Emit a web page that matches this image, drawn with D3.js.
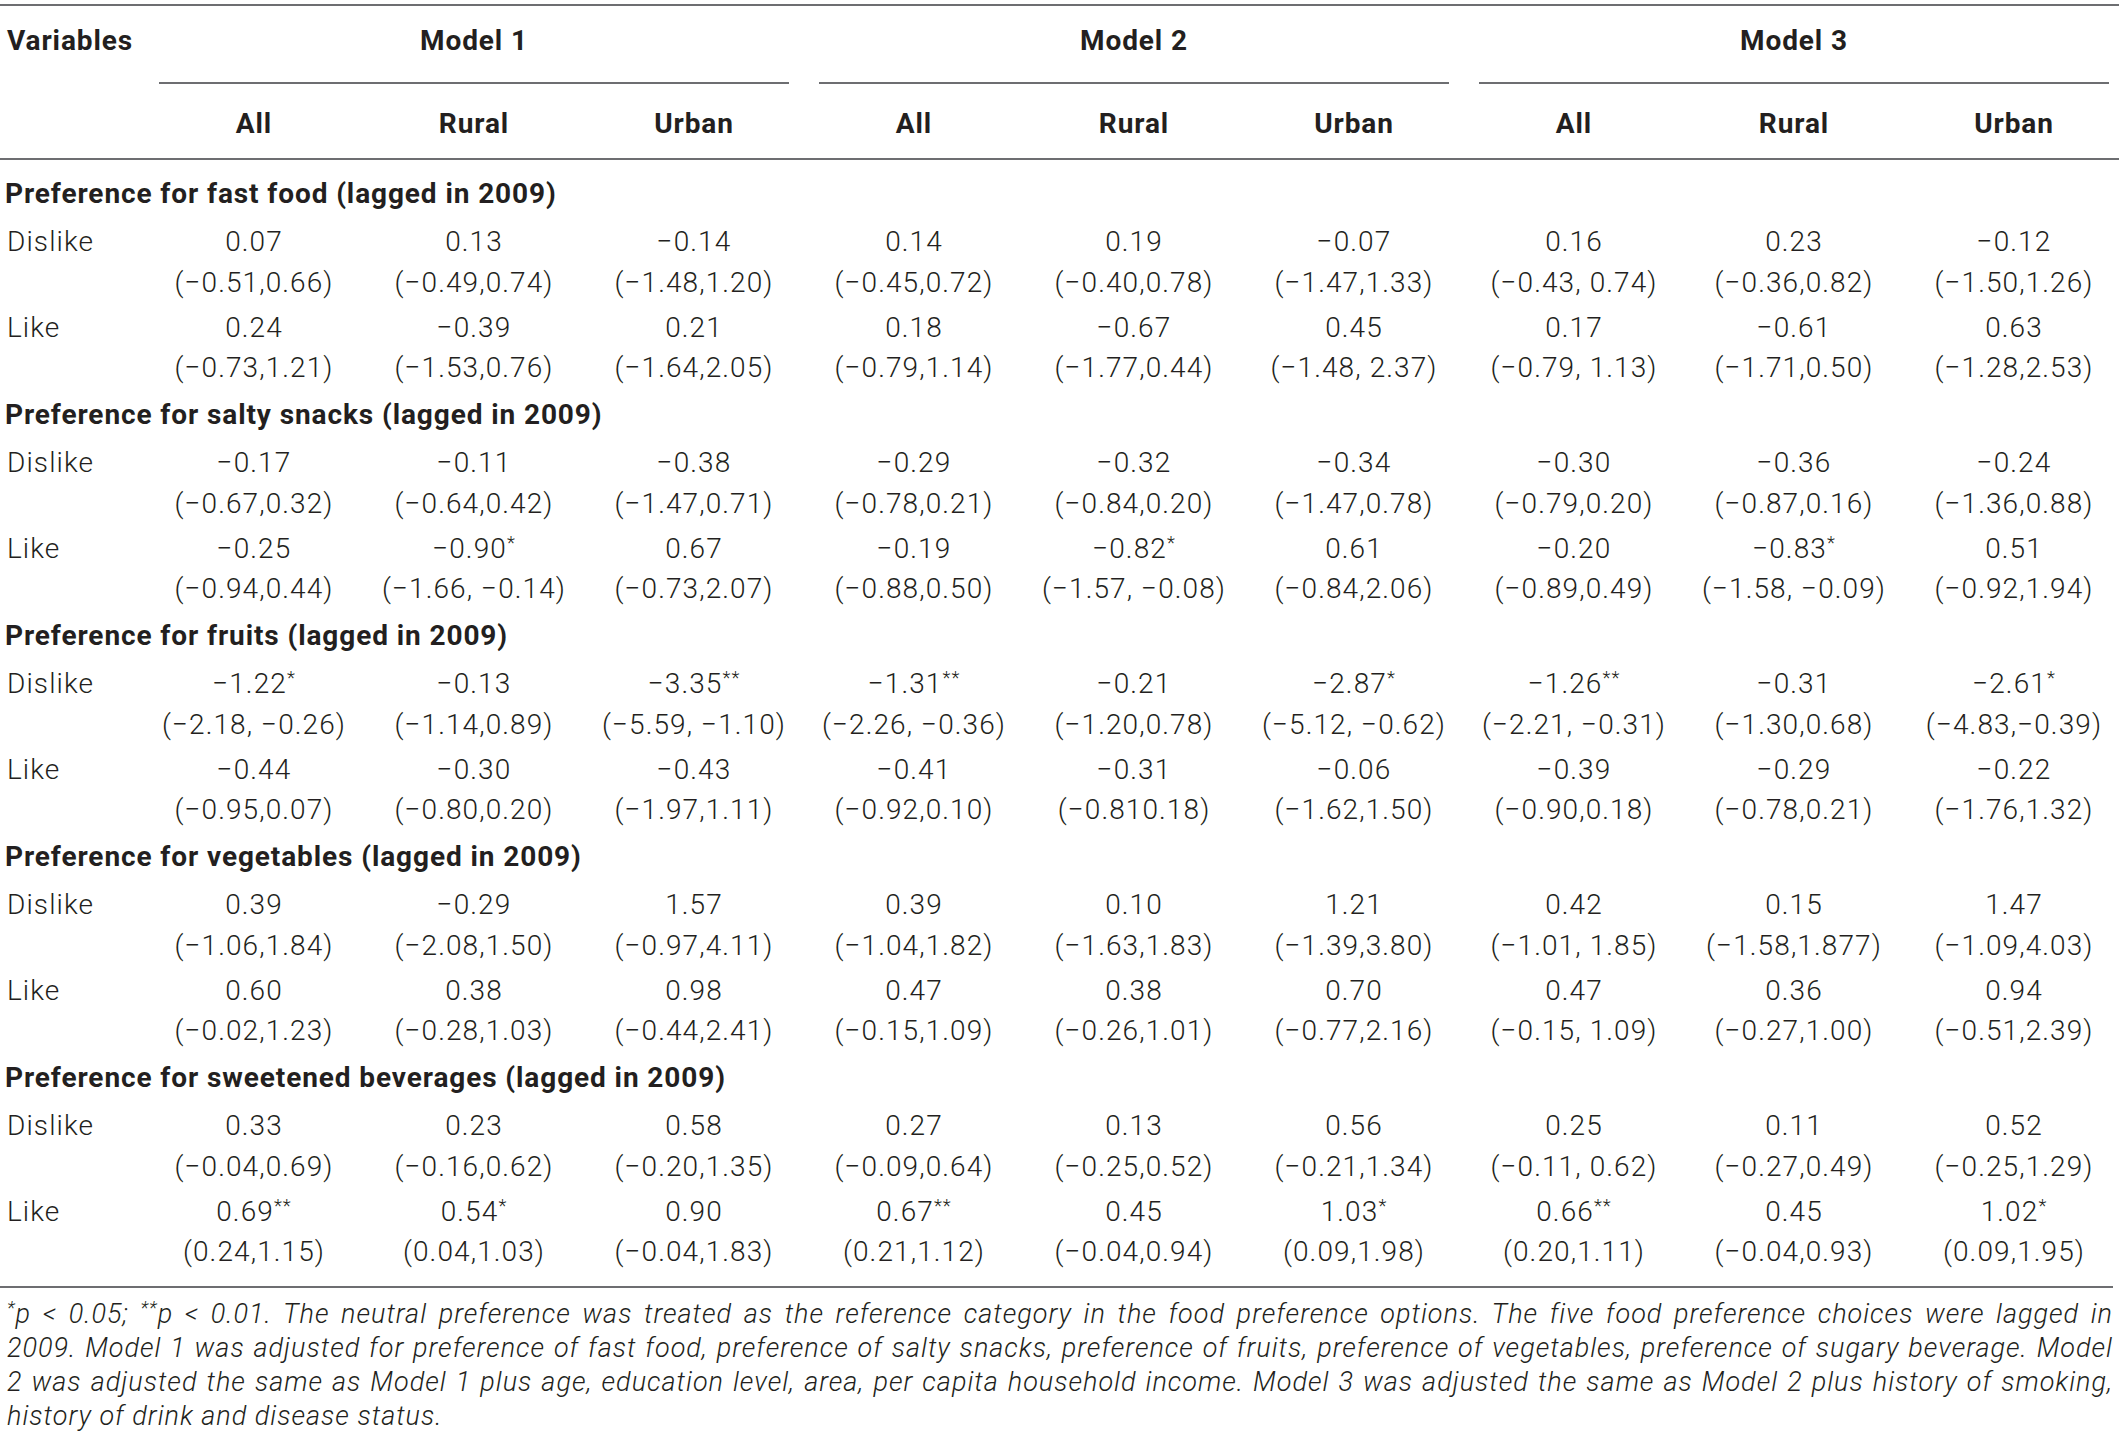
<!DOCTYPE html>
<html>
<head>
<meta charset="utf-8">
<script src="https://cdn.jsdelivr.net/npm/d3@7/dist/d3.min.js"></script>
<style>
  body { margin: 0; background: #fff; }
  svg { display: block; }
  text { fill: #231f20; font-family: Roboto, "Liberation Sans", sans-serif; }
  .light { font-weight: 300; letter-spacing: 1.1px; }
  .bold { font-weight: 700; letter-spacing: 0.9px; }
  .note { font-style: italic; font-weight: 300; letter-spacing: 1px; }
</style>
</head>
<body>
<div id="vis"></div>
<script>
// ---- data ----
var models = ["Model 1", "Model 2", "Model 3"];
var groups = ["All", "Rural", "Urban"];
var levels = ["Dislike", "Like"];
var sections = [
  "Preference for fast food (lagged in 2009)",
  "Preference for salty snacks (lagged in 2009)",
  "Preference for fruits (lagged in 2009)",
  "Preference for vegetables (lagged in 2009)",
  "Preference for sweetened beverages (lagged in 2009)"
];

// estimates: [dislike row, like row], 9 columns (Model 1..3 x All/Rural/Urban)
var fastFoodEst = [
  ["0.07", "0.13", "−0.14", "0.14", "0.19", "−0.07", "0.16", "0.23", "−0.12"],
  ["0.24", "−0.39", "0.21", "0.18", "−0.67", "0.45", "0.17", "−0.61", "0.63"]
];
var fastFoodCI = [
  ["(−0.51,0.66)", "(−0.49,0.74)", "(−1.48,1.20)", "(−0.45,0.72)", "(−0.40,0.78)", "(−1.47,1.33)", "(−0.43, 0.74)", "(−0.36,0.82)", "(−1.50,1.26)"],
  ["(−0.73,1.21)", "(−1.53,0.76)", "(−1.64,2.05)", "(−0.79,1.14)", "(−1.77,0.44)", "(−1.48, 2.37)", "(−0.79, 1.13)", "(−1.71,0.50)", "(−1.28,2.53)"]
];
var saltyEst = [
  ["−0.17", "−0.11", "−0.38", "−0.29", "−0.32", "−0.34", "−0.30", "−0.36", "−0.24"],
  ["−0.25", "−0.90*", "0.67", "−0.19", "−0.82*", "0.61", "−0.20", "−0.83*", "0.51"]
];
var saltyCI = [
  ["(−0.67,0.32)", "(−0.64,0.42)", "(−1.47,0.71)", "(−0.78,0.21)", "(−0.84,0.20)", "(−1.47,0.78)", "(−0.79,0.20)", "(−0.87,0.16)", "(−1.36,0.88)"],
  ["(−0.94,0.44)", "(−1.66, −0.14)", "(−0.73,2.07)", "(−0.88,0.50)", "(−1.57, −0.08)", "(−0.84,2.06)", "(−0.89,0.49)", "(−1.58, −0.09)", "(−0.92,1.94)"]
];
var fruitsEst = [
  ["−1.22*", "−0.13", "−3.35**", "−1.31**", "−0.21", "−2.87*", "−1.26**", "−0.31", "−2.61*"],
  ["−0.44", "−0.30", "−0.43", "−0.41", "−0.31", "−0.06", "−0.39", "−0.29", "−0.22"]
];
var fruitsCI = [
  ["(−2.18, −0.26)", "(−1.14,0.89)", "(−5.59, −1.10)", "(−2.26, −0.36)", "(−1.20,0.78)", "(−5.12, −0.62)", "(−2.21, −0.31)", "(−1.30,0.68)", "(−4.83,−0.39)"],
  ["(−0.95,0.07)", "(−0.80,0.20)", "(−1.97,1.11)", "(−0.92,0.10)", "(−0.810.18)", "(−1.62,1.50)", "(−0.90,0.18)", "(−0.78,0.21)", "(−1.76,1.32)"]
];
var vegEst = [
  ["0.39", "−0.29", "1.57", "0.39", "0.10", "1.21", "0.42", "0.15", "1.47"],
  ["0.60", "0.38", "0.98", "0.47", "0.38", "0.70", "0.47", "0.36", "0.94"]
];
var vegCI = [
  ["(−1.06,1.84)", "(−2.08,1.50)", "(−0.97,4.11)", "(−1.04,1.82)", "(−1.63,1.83)", "(−1.39,3.80)", "(−1.01, 1.85)", "(−1.58,1.877)", "(−1.09,4.03)"],
  ["(−0.02,1.23)", "(−0.28,1.03)", "(−0.44,2.41)", "(−0.15,1.09)", "(−0.26,1.01)", "(−0.77,2.16)", "(−0.15, 1.09)", "(−0.27,1.00)", "(−0.51,2.39)"]
];
var bevEst = [
  ["0.33", "0.23", "0.58", "0.27", "0.13", "0.56", "0.25", "0.11", "0.52"],
  ["0.69**", "0.54*", "0.90", "0.67**", "0.45", "1.03*", "0.66**", "0.45", "1.02*"]
];
var bevCI = [
  ["(−0.04,0.69)", "(−0.16,0.62)", "(−0.20,1.35)", "(−0.09,0.64)", "(−0.25,0.52)", "(−0.21,1.34)", "(−0.11, 0.62)", "(−0.27,0.49)", "(−0.25,1.29)"],
  ["(0.24,1.15)", "(0.04,1.03)", "(−0.04,1.83)", "(0.21,1.12)", "(−0.04,0.94)", "(0.09,1.98)", "(0.20,1.11)", "(−0.04,0.93)", "(0.09,1.95)"]
];

var estimates = [fastFoodEst, saltyEst, fruitsEst, vegEst, bevEst];
var intervals = [fastFoodCI, saltyCI, fruitsCI, vegCI, bevCI];

var noteLines = [
  "*p < 0.05; **p < 0.01. The neutral preference was treated as the reference category in the food preference options. The five food preference choices were lagged in",
  "2009. Model 1 was adjusted for preference of fast food, preference of salty snacks, preference of fruits, preference of vegetables, preference of sugary beverage. Model",
  "2 was adjusted the same as Model 1 plus age, education level, area, per capita household income. Model 3 was adjusted the same as Model 2 plus history of smoking,",
  "history of drink and disease status."
];

// ---- layout ----
var width = 2119, height = 1447;
var fontSize = 28;

var svg = d3.select("#vis").append("svg")
    .attr("width", width)
    .attr("height", height);

svg.append("rect").attr("width", width).attr("height", height).attr("fill", "#fff");

var colKeys = [];
models.forEach(function(m) { groups.forEach(function(g) { colKeys.push(m + "|" + g); }); });

var x = d3.scalePoint().domain(colKeys).range([254, 2014]);
var modelX = function(m) { return x(m + "|" + groups[1]); };
var y = d3.scaleLinear().domain([0, sections.length - 1]).range([203, 1087]);

// row offsets from the section title baseline
var rowOffset = { est: [48, 134], ci: [89, 174] };

// writes a string, lifting asterisks into superscript
function addText(sel, str) {
  var m = str.match(/^([^*]*)(\*+)(.*)$/);
  if (!m) { sel.text(str); return; }
  sel.append("tspan").text(m[1]);
  sel.append("tspan").attr("dy", -9).attr("font-size", fontSize * 0.66).text(m[2]);
  var rest = sel.append("tspan").attr("dy", 9);
  addText(rest, m[3]);
}

var lineColor = "#6d6e71";

function hline(x1, x2, yy) {
  svg.append("line")
    .attr("x1", x1).attr("x2", x2)
    .attr("y1", yy).attr("y2", yy)
    .attr("stroke", lineColor)
    .attr("stroke-width", 2);
}

// rules
hline(0, width, 5);
hline(0, width, 159);
hline(0, width - 6, 1287);
models.forEach(function(m) { hline(modelX(m) - 315, modelX(m) + 315, 83); });

// header
svg.append("text").attr("class", "bold")
  .attr("x", 7).attr("y", 50).attr("font-size", fontSize)
  .text("Variables");

svg.selectAll(".model")
  .data(models)
  .enter().append("text")
  .attr("class", "bold model")
  .attr("x", modelX)
  .attr("y", 50)
  .attr("font-size", fontSize)
  .attr("text-anchor", "middle")
  .text(function(d) { return d; });

svg.selectAll(".grp")
  .data(colKeys)
  .enter().append("text")
  .attr("class", "bold grp")
  .attr("x", function(d) { return x(d); })
  .attr("y", 133)
  .attr("font-size", fontSize)
  .attr("text-anchor", "middle")
  .text(function(d) { return d.split("|")[1]; });

// body
sections.forEach(function(title, si) {
  var y0 = y(si);
  svg.append("text").attr("class", "bold")
    .attr("x", 5).attr("y", y0).attr("font-size", fontSize)
    .text(title);

  levels.forEach(function(lv, li) {
    svg.append("text").attr("class", "light")
      .attr("x", 7).attr("y", y0 + rowOffset.est[li]).attr("font-size", fontSize)
      .text(lv);

    svg.selectAll(".est-" + si + "-" + li)
      .data(estimates[si][li])
      .enter().append("text")
      .attr("class", "light est-" + si + "-" + li)
      .attr("x", function(d, i) { return x(colKeys[i]); })
      .attr("y", y0 + rowOffset.est[li])
      .attr("font-size", fontSize)
      .attr("text-anchor", "middle")
      .each(function(d) { addText(d3.select(this), d); });

    svg.selectAll(".ci-" + si + "-" + li)
      .data(intervals[si][li])
      .enter().append("text")
      .attr("class", "light ci-" + si + "-" + li)
      .attr("x", function(d, i) { return x(colKeys[i]); })
      .attr("y", y0 + rowOffset.ci[li])
      .attr("font-size", fontSize)
      .attr("text-anchor", "middle")
      .text(function(d) { return d; });
  });
});

// footnote, justified except the last line
var noteLeft = 7, noteRight = 2113;
noteLines.forEach(function(line, i) {
  var t = svg.append("text").attr("class", "note")
    .attr("x", noteLeft)
    .attr("y", 1323 + i * 34)
    .attr("font-size", 27);
  addText(t, line);
  if (i < noteLines.length - 1) {
    var natural = t.node().getComputedTextLength();
    var spaces = (line.match(/ /g) || []).length;
    t.attr("word-spacing", Math.max(0, (noteRight - noteLeft - natural) / spaces));
  }
});
</script>
</body>
</html>
